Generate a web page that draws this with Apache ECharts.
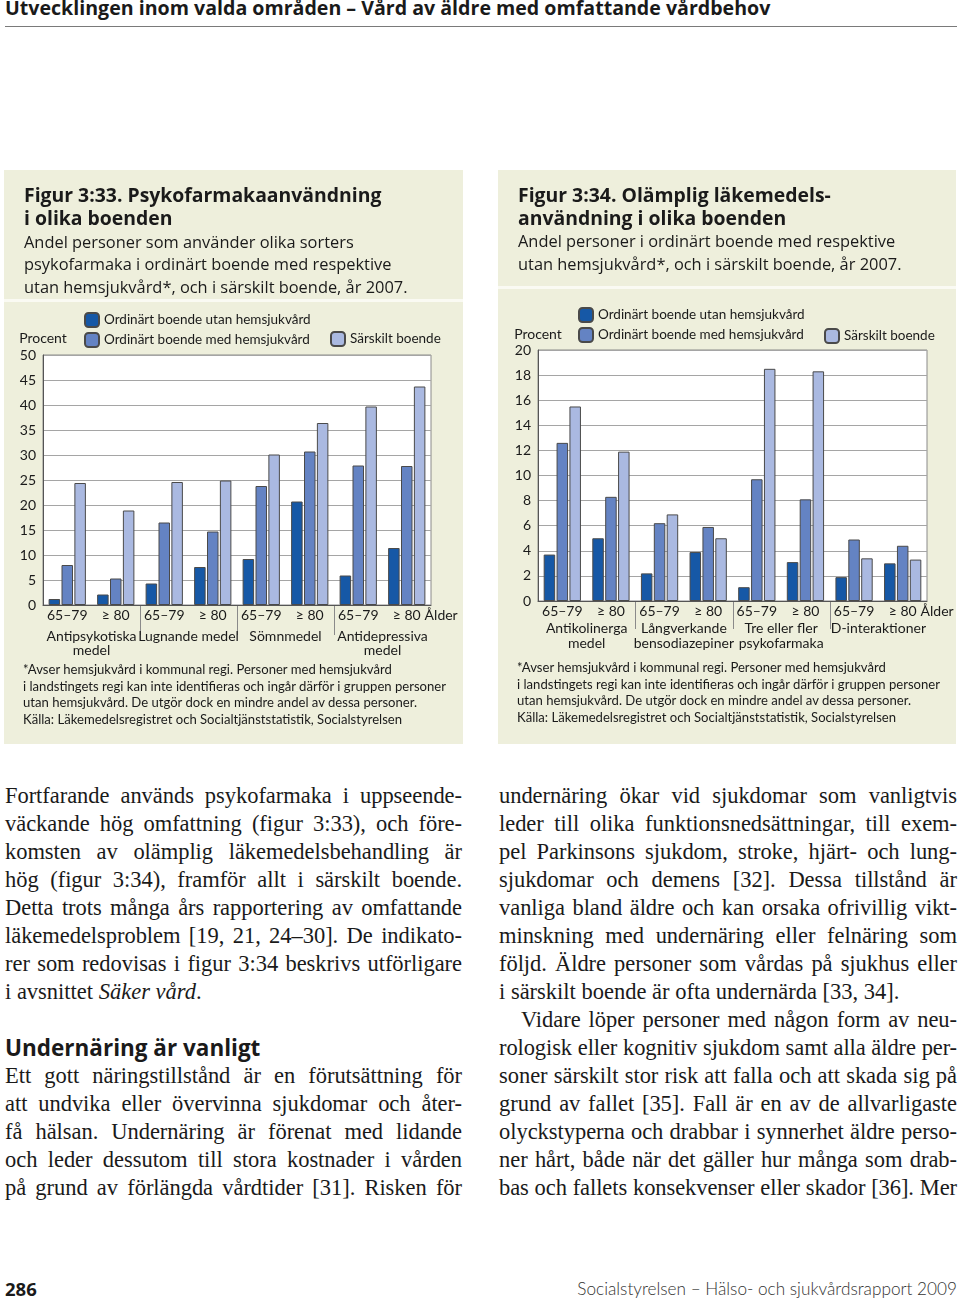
<!DOCTYPE html>
<html>
<head>
<meta charset="utf-8">
<script src="https://cdn.jsdelivr.net/npm/echarts@6/dist/echarts.min.js"></script>
<style>
  html, body { margin:0; padding:0; }
  body { width:960px; height:1302px; position:relative; background:#fff; overflow:hidden; font-family:Lato, sans-serif; color:#1a1a1a; }
  #hdr { position:absolute; left:5px; top:-4px; font:bold 19.6px/24px "Open Sans", sans-serif; white-space:nowrap; }
  #hdrline { position:absolute; left:5px; top:26px; width:952px; height:1px; background:#7a7a7a; }
  .panel { position:absolute; top:170px; height:574px; background:#eeefdc; }
  .sep { position:absolute; left:0; right:0; height:3px; background:#fafaf3; }
  .chart { position:absolute; left:0; top:0; width:100%; height:100%; }
  .foot { position:absolute; font:13.1px/16.6px Lato, sans-serif; white-space:nowrap; color:#1a1a1a; z-index:2; }
  .col { position:absolute; font:22.5px/28px "Liberation Serif", "Times New Roman", serif; color:#1a1a1a; }
  .col .l { text-align:justify; text-align-last:justify; height:28px; }
  .col .e { text-align:left; height:28px; }
  .col h2 { margin:0; height:28px; font:bold 22.5px/28px "Open Sans", sans-serif; white-space:nowrap; }
  #pgnum { position:absolute; left:5px; top:1277px; font:bold 18.5px/24px "Open Sans", sans-serif; }
  #pgsrc { position:absolute; right:3px; top:1277px; font:300 17.2px/24px Lato, sans-serif; color:#333; white-space:nowrap; }
</style>
</head>
<body>
<div id="hdr">Utvecklingen inom valda områden – Vård av äldre med omfattande vårdbehov</div>
<div id="hdrline"></div>

<div class="panel" id="p1" style="left:4px;width:459px;">
  <div class="sep" style="top:129px;"></div>
  <div class="chart" id="c1"></div>
  <div class="foot" style="left:19px;top:491px;">*Avser hemsjukvård i kommunal regi. Personer med hemsjukvård<br>i landstingets regi kan inte identifieras och ingår därför i gruppen personer<br>utan hemsjukvård. De utgör dock en mindre andel av dessa personer.<br>Källa: Läkemedelsregistret och Socialtjänststatistik, Socialstyrelsen</div>
</div>

<div class="panel" id="p2" style="left:498px;width:458px;">
  <div class="sep" style="top:116px;"></div>
  <div class="chart" id="c2"></div>
  <div class="foot" style="left:19px;top:489px;">*Avser hemsjukvård i kommunal regi. Personer med hemsjukvård<br>i landstingets regi kan inte identifieras och ingår därför i gruppen personer<br>utan hemsjukvård. De utgör dock en mindre andel av dessa personer.<br>Källa: Läkemedelsregistret och Socialtjänststatistik, Socialstyrelsen</div>
</div>

<div class="col" style="left:5px;top:782px;width:457px;">
  <div class="l">Fortfarande används psykofarmaka i uppseende-</div>
  <div class="l">väckande hög omfattning (figur 3:33), och före-</div>
  <div class="l">komsten av olämplig läkemedelsbehandling är</div>
  <div class="l">hög (figur 3:34), framför allt i särskilt boende.</div>
  <div class="l">Detta trots många års rapportering av omfattande</div>
  <div class="l">läkemedelsproblem [19, 21, 24–30]. De indikato-</div>
  <div class="l">rer som redovisas i figur 3:34 beskrivs utförligare</div>
  <div class="e">i avsnittet <i>Säker vård</i>.</div>
  <div style="height:28px"></div>
  <h2>Undernäring är vanligt</h2>
  <div class="l">Ett gott näringstillstånd är en förutsättning för</div>
  <div class="l">att undvika eller övervinna sjukdomar och åter-</div>
  <div class="l">få hälsan. Undernäring är förenat med lidande</div>
  <div class="l">och leder dessutom till stora kostnader i vården</div>
  <div class="l">på grund av förlängda vårdtider [31]. Risken för</div>
</div>

<div class="col" style="left:499px;top:782px;width:458px;">
  <div class="l">undernäring ökar vid sjukdomar som vanligtvis</div>
  <div class="l">leder till olika funktionsnedsättningar, till exem-</div>
  <div class="l">pel Parkinsons sjukdom, stroke, hjärt- och lung-</div>
  <div class="l">sjukdomar och demens [32]. Dessa tillstånd är</div>
  <div class="l">vanliga bland äldre och kan orsaka ofrivillig vikt-</div>
  <div class="l">minskning med undernäring eller felnäring som</div>
  <div class="l">följd. Äldre personer som vårdas på sjukhus eller</div>
  <div class="e">i särskilt boende är ofta undernärda [33, 34].</div>
  <div class="l" style="padding-left:22px;">Vidare löper personer med någon form av neu-</div>
  <div class="l">rologisk eller kognitiv sjukdom samt alla äldre per-</div>
  <div class="l">soner särskilt stor risk att falla och att skada sig på</div>
  <div class="l">grund av fallet [35]. Fall är en av de allvarligaste</div>
  <div class="l">olyckstyperna och drabbar i synnerhet äldre perso-</div>
  <div class="l">ner hårt, både när det gäller hur många som drab-</div>
  <div class="l">bas och fallets konsekvenser eller skador [36]. Mer</div>
</div>

<div id="pgnum">286</div>
<div id="pgsrc">Socialstyrelsen – Hälso- och sjukvårdsrapport 2009</div>

<script>
// ---------- data ----------
const seriesNames = ['Ordinärt boende utan hemsjukvård', 'Ordinärt boende med hemsjukvård', 'Särskilt boende'];
const ageLabels = ['65–79', '≥ 80', '65–79', '≥ 80', '65–79', '≥ 80', '65–79', '≥ 80'];

// Figur 3:33
const groups1 = ['Antipsykotiska\nmedel', 'Lugnande medel', 'Sömnmedel', 'Antidepressiva\nmedel'];
const utan1     = [1.2, 2.1, 4.3, 7.6, 9.2, 20.7, 5.9, 11.4];
const med1      = [8.0, 5.3, 16.5, 14.7, 23.8, 30.7, 27.9, 27.8];
const sarskilt1 = [24.4, 18.9, 24.6, 24.9, 30.1, 36.4, 39.7, 43.7];
const yMax1 = 50, yStep1 = 5;

// Figur 3:34
const groups2 = ['Antikolinerga\nmedel', 'Långverkande\nbensodiazepiner', 'Tre eller fler\npsykofarmaka', 'D-interaktioner'];
const utan2     = [3.7, 5.0, 2.2, 3.9, 1.1, 3.1, 1.9, 3.0];
const med2      = [12.6, 8.3, 6.2, 5.9, 9.7, 8.1, 4.9, 4.4];
const sarskilt2 = [15.5, 11.9, 6.9, 5.0, 18.5, 18.3, 3.4, 3.3];
const yMax2 = 20, yStep2 = 2;

const titles = [
  { text: 'Figur 3:33. Psykofarmakaanvändning\ni olika boenden',
    sub: 'Andel personer som använder olika sorters\npsykofarmaka i ordinärt boende med respektive\nutan hemsjukvård*, och i särskilt boende, år 2007.' },
  { text: 'Figur 3:34. Olämplig läkemedels-\nanvändning i olika boenden',
    sub: 'Andel personer i ordinärt boende med respektive\nutan hemsjukvård*, och i särskilt boende, år 2007.' }
];

// ---------- style ----------
const colors = ['#1658a6', '#6483c3', '#aab9e1'];
const FONT = 'Lato, sans-serif';
const TFONT = '"Open Sans", sans-serif';
const INK = '#1a1a1a';

function build(el, cfg) {
  const chart = echarts.init(el, null, { renderer: 'canvas' });
  const values = [cfg.utan, cfg.med, cfg.sarskilt];
  const option = {
    animation: false,
    textStyle: { fontFamily: FONT, color: INK },
    title: {
      text: cfg.title.text, subtext: cfg.title.sub,
      left: 20, top: cfg.titleTop, padding: 0, itemGap: cfg.titleGap,
      textStyle: { fontFamily: TFONT, fontWeight: 'bold', fontSize: 19.4, lineHeight: 23, color: INK },
      subtextStyle: { fontFamily: TFONT, fontSize: 16.4, lineHeight: 22.7, color: INK }
    },
    legend: [
      { orient: 'vertical', left: 80, top: cfg.legTop, itemWidth: 14, itemHeight: 14, itemGap: 4, padding: 0,
        data: [seriesNames[0], seriesNames[1]], selectedMode: false,
        textStyle: { fontFamily: FONT, fontSize: 13.5, color: INK } },
      { orient: 'vertical', left: 326, top: cfg.legTop2, itemWidth: 14, itemHeight: 14, padding: 0,
        data: [seriesNames[2]], selectedMode: false,
        textStyle: { fontFamily: FONT, fontSize: 13.5, color: INK } }
    ],
    grid: { left: cfg.grid.left, top: cfg.grid.top, width: cfg.grid.width, height: cfg.grid.height,
            show: true, backgroundColor: '#ffffff', borderColor: '#8a8a8a', borderWidth: 1 },
    xAxis: [
      { type: 'category', data: ageLabels, position: 'bottom',
        axisLine: { show: true, lineStyle: { color: '#555', width: 1 } },
        axisTick: { show: false },
        axisLabel: { interval: 0, margin: 3, fontSize: 14, lineHeight: 15, color: INK, fontFamily: FONT },
        name: 'Ålder', nameLocation: 'end', nameGap: -7,
        nameTextStyle: { fontSize: 14, color: INK, align: 'left', verticalAlign: 'top', lineHeight: 15, padding: [3, 0, 0, 0] }
      },
      { type: 'category', data: cfg.groups, position: 'bottom',
        axisLine: { show: false }, axisTick: { show: false },
        axisLabel: { interval: 0, margin: cfg.groupMargin, fontSize: 14, lineHeight: cfg.groupLH, color: INK, fontFamily: FONT }
      }
    ],
    yAxis: {
      type: 'value', min: 0, max: cfg.yMax, interval: cfg.yStep,
      axisLine: { show: true, lineStyle: { color: '#555' } },
      axisTick: { show: false },
      axisLabel: { margin: 7, fontSize: 14, color: INK, fontFamily: FONT },
      splitLine: { lineStyle: { color: '#a5a5a5', width: 1 } },
      name: 'Procent', nameLocation: 'end', nameGap: cfg.nameGap,
      nameTextStyle: { fontSize: 14, color: INK, align: 'center', fontFamily: FONT }
    },
    series: values.map((v, i) => ({
      name: seriesNames[i], type: 'bar', data: v, xAxisIndex: 0,
      barWidth: 11.5, barGap: '12%',
      itemStyle: { color: colors[i], borderColor: '#4a4a4a', borderWidth: 1 },
      emphasis: { disabled: true }
    }))
  };
  chart.setOption(option);

  // group separators, positioned through the category scale
  const px = i => chart.convertToPixel({ xAxisIndex: 0 }, i);
  const y0 = chart.convertToPixel({ yAxisIndex: 0 }, 0);
  const lines = [];
  for (let g = 1; g < cfg.groups.length; g++) {
    const x = Math.round((px(2 * g - 1) + px(2 * g)) / 2) + 0.5;
    lines.push({ type: 'line', shape: { x1: x, y1: y0, x2: x, y2: y0 + cfg.sepLen },
                 style: { stroke: '#8a8a8a', lineWidth: 1 }, silent: true });
  }
  chart.setOption({ graphic: lines });
}

build(document.getElementById('c1'), {
  title: titles[0], titleTop: 14.5, titleGap: 1,
  utan: utan1, med: med1, sarskilt: sarskilt1, groups: groups1,
  yMax: yMax1, yStep: yStep1,
  grid: { left: 39, top: 185, width: 388, height: 250 },
  legTop: 142, legTop2: 161, nameGap: 10, groupMargin: 24, groupLH: 14, sepLen: 30
});
build(document.getElementById('c2'), {
  title: titles[1], titleTop: 15, titleGap: 0,
  utan: utan2, med: med2, sarskilt: sarskilt2, groups: groups2,
  yMax: yMax2, yStep: yStep2,
  grid: { left: 40, top: 180, width: 389, height: 251 },
  legTop: 137, legTop2: 158, nameGap: 9, groupMargin: 20, groupLH: 15, sepLen: 28
});

// squeeze any justified body line that is naturally wider than its column
document.querySelectorAll('.col .l').forEach(d => {
  const html = d.innerHTML;
  const s = document.createElement('span');
  s.style.whiteSpace = 'nowrap';
  s.innerHTML = html;
  d.innerHTML = '';
  d.appendChild(s);
  const cs = getComputedStyle(d);
  const avail = d.clientWidth - parseFloat(cs.paddingLeft) - parseFloat(cs.paddingRight);
  const w = s.getBoundingClientRect().width;
  d.innerHTML = html;
  if (w > avail - 1) {
    d.style.letterSpacing = ((avail - w - 2) / s.textContent.length).toFixed(3) + 'px';
  }
});
</script>
</body>
</html>
